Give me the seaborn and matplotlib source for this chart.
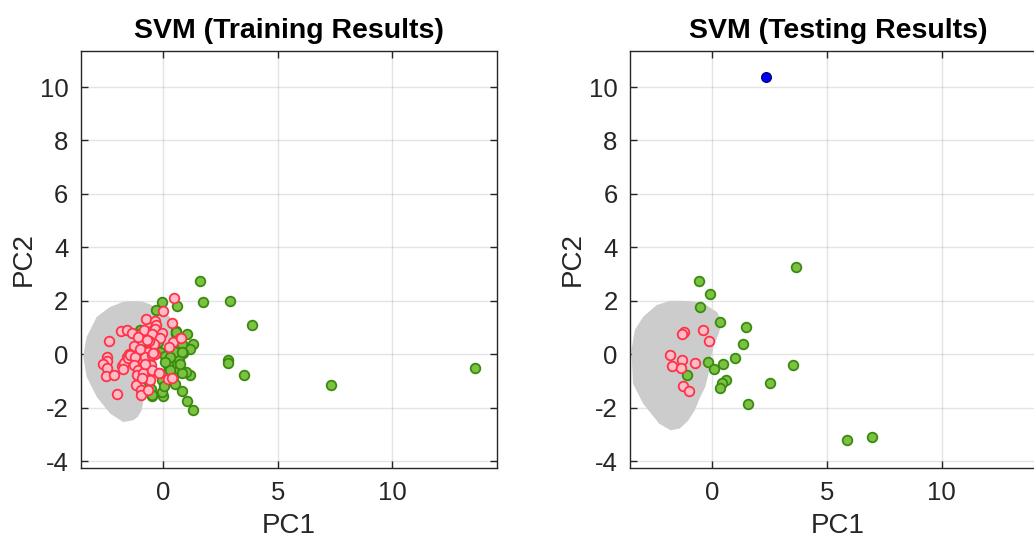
import numpy as np
import pandas as pd
import matplotlib
matplotlib.use("Agg")
import matplotlib.pyplot as plt
import seaborn as sns

# ---------------- data ----------------
train_red_x = [0.49, -0.01, -0.72, -0.35, -0.30, 0.39, -0.83, -0.42, -0.35, -0.06, -1.83, -1.57, -1.33, -1.10,
               -0.46, -0.13, -0.57, 0.74, -2.36, -1.26, -0.40, 0.42, -0.64, -0.38, -1.47, -1.07, -1.58, -2.45,
               -2.45, -2.60, -2.42, -2.49, -2.12, -2.00, -1.80, -1.68, -1.51, -1.43, -1.73, -1.22, -1.25, -1.10,
               -1.14, -0.86, -0.78, -0.71, -0.75, -0.86, -0.49, -0.35, -0.52, -0.46, -1.17, -0.96, -0.97, -0.16,
               0.20, 0.38, 0.77, 0.26, -0.17, -0.60, -0.42, -0.71, -0.78, -0.57, -0.64, -1.00, -0.90]
train_red_y = [2.12, 1.61, 1.30, 1.24, 1.09, 1.15, 0.90, 0.90, 0.96, 0.81, 0.86, 0.92, 0.80, 0.65,
               0.77, 0.59, 0.46, 0.59, 0.50, 0.30, 0.40, 0.44, 0.09, 0.05, 0.00, -0.07, -0.12, -0.10,
               -0.26, -0.35, -0.51, -0.81, -0.79, -1.50, -0.45, -0.33, -0.16, -0.04, -0.54, -0.10, -0.41, -0.60,
               -0.79, -0.29, -0.10, -0.47, -0.66, -0.72, -0.04, 0.02, -0.41, -0.60, -1.14, -1.33, -1.51, -0.70,
               -0.91, -0.89, 0.62, 0.27, -0.72, 0.49, 0.03, 0.52, -0.35, -0.97, -1.35, 0.20, -0.90]

train_green_x = [13.58, 7.33, 3.88, 3.52, 1.61, 1.75, 2.94, -0.04, 0.60, -0.28, 0.57, 1.07, 2.84, 2.84,
                 1.07, 1.29, 0.01, -0.06, -0.49, 0.84, 1.20, 1.00, 1.32, 1.20, 0.81, 0.67, 0.27, 0.49,
                 0.38, 0.67, 0.81, 0.45, 0.52, 0.38, 0.23, 0.86, 0.70, 0.23, 0.74, -0.13, 0.57, -0.06,
                 -1.00, -1.07, -0.64, -0.57, 0.55, -0.23, -0.86, 0.52, 0.81, 0.09, 0.30, -0.61, -0.52,
                 -0.49, 0.30, 0.10, 0.05]
train_green_y = [-0.51, -1.14, 1.10, -0.79, 2.73, 1.95, 2.00, 1.97, 1.81, 1.65, 0.87, 0.75, -0.20, -0.33,
                 -1.76, -2.07, -1.57, -1.41, -1.56, -1.37, -0.79, -0.66, 0.37, 0.21, 0.37, 0.05, -0.10, -0.22,
                 -0.47, -0.57, -0.72, -0.85, -1.10, -0.35, -0.41, 0.05, -0.22, -0.66, -0.35, 0.09, 0.77, -0.95,
                 0.90, 0.77, 0.71, 0.65, 0.84, 0.46, 0.15, 0.09, 0.09, -0.07, -0.10, -1.04, -1.29,
                 -1.54, -0.60, -0.30, -1.20]

test_red_x = [-1.21, -1.30, -0.39, -0.15, -1.83, -1.32, -1.75, -1.35, -0.76, -1.27, -1.01]
test_red_y = [0.84, 0.75, 0.92, 0.48, -0.03, -0.20, -0.44, -0.50, -0.34, -1.20, -1.37]

test_green_x = [-0.56, -0.07, -0.50, 0.36, 1.50, 1.36, 1.02, -0.19, 0.48, 0.10, -1.07, 0.61, 0.44, 0.33,
                3.67, 3.51, 2.53, 1.55, 5.90, 6.99]
test_green_y = [2.75, 2.26, 1.76, 1.20, 1.02, 0.37, -0.14, -0.31, -0.37, -0.56, -0.76, -0.95, -1.06, -1.28,
                3.28, -0.41, -1.06, -1.85, -3.23, -3.10]

test_blue_x = [2.34]
test_blue_y = [10.37]

# decision-region outlines
train_region_x = [-1.30, -0.90, -0.57, -0.10, 0.30, 0.45, 0.30, 0.01, -0.27, -0.57, -0.71, -0.85, -0.93,
                  -1.10, -1.29, -1.73, -2.30, -2.88, -3.32, -3.47, -3.40, -3.32, -2.88, -2.30, -1.73]
train_region_y = [1.99, 1.97, 1.87, 1.65, 1.40, 0.90, 0.55, 0.27, -0.22, -0.72, -1.35, -1.75, -2.10,
                  -2.35, -2.47, -2.54, -2.22, -1.60, -0.85, -0.10, 0.30, 0.65, 1.40, 1.77, 1.96]

test_region_x = [-1.38, -0.90, -0.37, 0.22, 0.44, 0.29, 0.07, -0.04, -0.15, -0.29, -0.51, -0.75, -1.05,
                 -1.40, -1.80, -2.30, -3.00, -3.44, -3.51, -3.36, -3.00, -2.41, -1.83]
test_region_y = [2.00, 1.98, 1.90, 1.58, 1.21, 0.77, 0.27, -0.10, -0.72, -1.22, -1.60, -2.10, -2.50,
                 -2.78, -2.85, -2.60, -1.85, -1.10, 0.15, 0.90, 1.40, 1.84, 2.00]

xticks = [0, 5, 10]
yticks = [-4, -2, 0, 2, 4, 6, 8, 10]
titles = ["SVM (Training Results)", "SVM (Testing Results)"]

# ---------------- style ----------------
sns.set_theme(style="white")
plt.rcParams['font.family'] = ['Liberation Sans', 'DejaVu Sans']
plt.rcParams['axes.unicode_minus'] = False
axcol = "#262626"

fig = plt.figure(figsize=(10.34, 5.43), dpi=100)
ax1 = fig.add_axes([0.0783, 0.1381, 0.4023, 0.768])
ax2 = fig.add_axes([0.6093, 0.1381, 0.4023, 0.768])

green_fill, green_edge = "#7cc242", "#3a8a10"
red_fill, red_edge = "#ffbcc8", "#ff3347"

def draw(ax, rx, ry, gx, gy, regx, regy, title, bx=None, by=None):
    ax.fill(regx, regy, color="#cccccc", lw=0, zorder=1)
    dg = pd.DataFrame({"PC1": gx, "PC2": gy})
    dr = pd.DataFrame({"PC1": rx, "PC2": ry})
    sns.scatterplot(data=dg, x="PC1", y="PC2", ax=ax, color=green_fill, edgecolor=green_edge,
                    linewidth=1.3, s=48, zorder=3)
    sns.scatterplot(data=dr, x="PC1", y="PC2", ax=ax, color=red_fill, edgecolor=red_edge,
                    linewidth=1.3, s=48, zorder=4)
    if bx is not None:
        db = pd.DataFrame({"PC1": bx, "PC2": by})
        sns.scatterplot(data=db, x="PC1", y="PC2", ax=ax, color="#0000ff", edgecolor="#000080",
                        linewidth=1.0, s=48, zorder=4)
    ax.set_xlim(-3.57, 14.55)
    ax.set_ylim(-4.26, 11.35)
    ax.set_xticks(xticks)
    ax.set_yticks(yticks)
    ax.grid(True, color="#262626", alpha=0.12, lw=1.0)
    ax.set_axisbelow(True)
    ax.tick_params(direction="in", length=5, width=1, colors=axcol, labelsize=18.5,
                   top=True, right=True, bottom=True, left=True, pad=9)
    for sp in ax.spines.values():
        sp.set_visible(True)
        sp.set_color(axcol)
        sp.set_linewidth(1.0)
    ax.set_xlabel("PC1", fontsize=20, color=axcol, labelpad=6)
    ax.set_ylabel("PC2", fontsize=20, color=axcol, labelpad=2)
    ax.set_title(title, fontsize=20.5, fontweight="bold", color="black", pad=9)

draw(ax1, train_red_x, train_red_y, train_green_x, train_green_y, train_region_x, train_region_y, titles[0])
draw(ax2, test_red_x, test_red_y, test_green_x, test_green_y, test_region_x, test_region_y, titles[1],
     test_blue_x, test_blue_y)

fig.savefig("out.png", dpi=100)
